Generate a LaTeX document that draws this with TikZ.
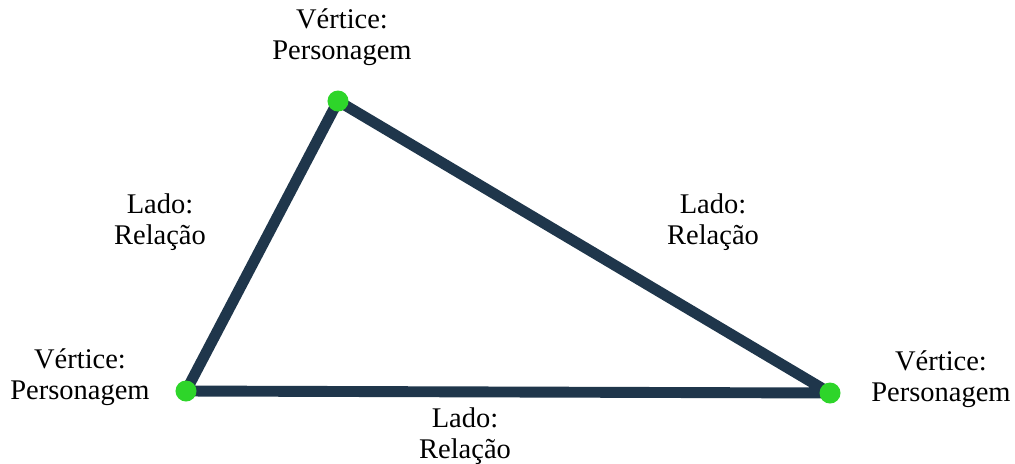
\documentclass[tikz,border=0pt]{standalone}
\usepackage{fontspec}
\setmainfont{Liberation Serif}
\usetikzlibrary{positioning}
\definecolor{navy}{HTML}{1F364B}
\definecolor{vgreen}{HTML}{2ED52A}

\begin{document}
\begin{tikzpicture}[x=0.01cm,y=-0.01cm, every node/.style={align=center,font=\fontsize{8.1}{8.9}\selectfont}]
\useasboundingbox (0,0) rectangle (1015,463);
\coordinate (p1) at (338,101);\coordinate (p2) at (186,391);\coordinate (p3) at (830,393);
\draw[navy,line width=3.1pt,line join=round] (p1)--(p2)--(p3)--cycle;
\foreach \p in {p1,p2,p3} \node[circle,fill=vgreen,inner sep=0pt,minimum size=0.21cm] (d\p) at (\p) {};
\node (v1) at (342,37) {Vértice:\\Personagem};
\node (v2) at (80,377) {Vértice:\\Personagem};
\node (v3) at (941,379) {Vértice:\\Personagem};
\node (l1) at (160,222) {Lado:\\Relação};
\node (l2) at (713,222) {Lado:\\Relação};
\node (l3) at (465,436) {Lado:\\Relação};
\end{tikzpicture}
\end{document}
